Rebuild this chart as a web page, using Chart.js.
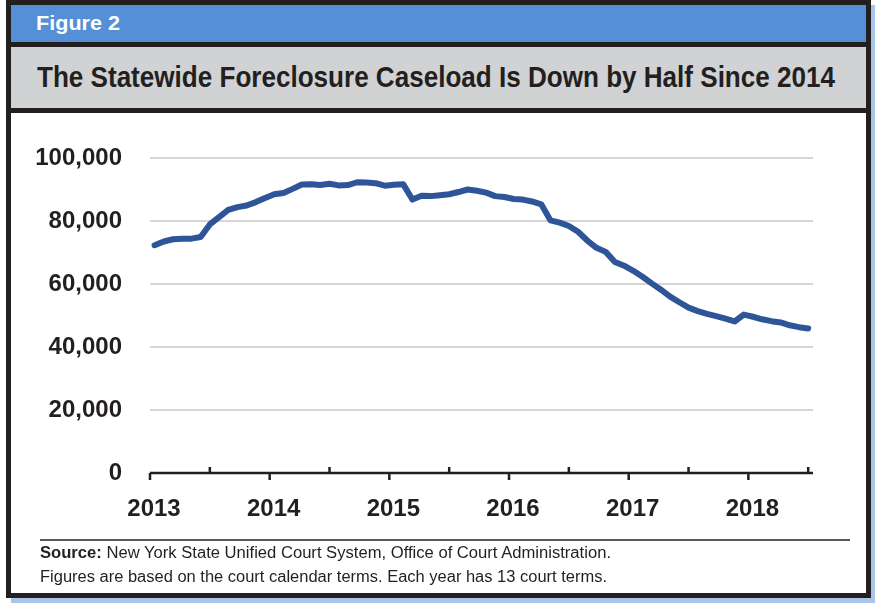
<!DOCTYPE html>
<html>
<head>
<meta charset="utf-8">
<script src="https://cdn.jsdelivr.net/npm/chart.js@4/dist/chart.umd.min.js"></script>
<style>
  body { margin: 0; width: 875px; height: 603px; background: #fff; position: relative; overflow: hidden; }
  .bold { font-family: "Liberation Sans", Arial, sans-serif; font-weight: bold; white-space: nowrap; }
  .fit { display: inline-block; transform-origin: 0 50%; }
  #shadow { position: absolute; left: 11px; top: 5px; width: 865px; height: 598px; background: #a9c6ea; }
  #frame { position: absolute; left: 6px; top: 0; width: 865px; height: 598px; border: 5px solid #231f20; box-sizing: border-box; background: #fff; }
  #fig { position: absolute; left: 0; top: 0; width: 855px; height: 37px; background: #558fd6; color: #fff; font-size: 21px; line-height: 36px; padding-left: 25px; box-sizing: border-box; }
  #title { position: absolute; left: 0; top: 37px; width: 855px; height: 71px; border-top: 5px solid #231f20; border-bottom: 5px solid #231f20; background: #d1d2d4; color: #231f20; font-size: 30px; line-height: 60px; padding-left: 26px; box-sizing: border-box; }
  #wrap { position: absolute; left: 0; top: 108px; width: 855px; height: 430px; }
  #rule { position: absolute; left: 29px; top: 534px; width: 810px; height: 0; border-top: 2px solid #5a5a5a; }
  .note { position: absolute; left: 29px; font-family: "Liberation Sans", Arial, sans-serif; font-size: 16px; color: #231f20; white-space: nowrap; }
</style>
</head>
<body>
<div id="shadow"></div>
<div id="frame">
  <div id="fig" class="bold"><span class="fit" data-w="84">Figure 2</span></div>
  <div id="title" class="bold"><span class="fit" data-w="798">The Statewide Foreclosure Caseload Is Down by Half Since 2014</span></div>
  <div id="wrap"><canvas id="chart"></canvas></div>
  <div id="rule"></div>
  <div class="note" style="top:539px"><span class="fit" data-w="571"><b>Source:</b> New York State Unified Court System, Office of Court Administration.</span></div>
  <div class="note" style="top:563px"><span class="fit" data-w="567">Figures are based on the court calendar terms. Each year has 13 court terms.</span></div>
</div>
<script>
// Statewide foreclosure caseload, one value per court term (13 terms a year), 2013 to mid-2018
const caseload = [
  72300, 73500, 74200, 74400, 74400, 74900, 78900, 81200, 83500, 84400, 84900, 86000, 87300, // 2013
  88500, 88900, 90200, 91600, 91700, 91400, 91800, 91300, 91400, 92300, 92200, 92000, 91200, // 2014
  91500, 91700, 86800, 88000, 87900, 88200, 88500, 89200, 90000, 89600, 89000, 87900, 87600, // 2015
  87000, 86800, 86200, 85300, 80200, 79500, 78400, 76600, 73800, 71500, 70200, 67000, 65800, // 2016
  64200, 62300, 60200, 58200, 56000, 54200, 52500, 51400, 50500, 49800, 49000, 48100, 50300, // 2017
  49600, 48800, 48200, 47800, 46900, 46300, 45900                                            // 2018
];
const firstYear = 2013;
const termsPerYear = 13;
const yearLabels = [2013, 2014, 2015, 2016, 2017, 2018];
const halfYearTicks = [2013.5, 2014.5, 2015.5, 2016.5, 2017.5, 2018.5];
const yTicks = [0, 20000, 40000, 60000, 80000, 100000];

// squeeze the condensed-looking headings to the widths of the original
document.querySelectorAll('.fit').forEach(el => {
  const w = el.getBoundingClientRect().width;
  el.style.transform = 'scaleX(' + (Number(el.dataset.w) / w) + ')';
});

// each term sits in the middle of its slot on the year axis
const points = caseload.map((v, i) => ({ x: firstYear + (i + 0.5) / termsPerYear, y: v }));

const ink = '#231f20';
const tickFont = { family: '"Liberation Sans", Arial, sans-serif', size: 24, weight: 'bold' };

// axis line with year ticks below and half-year ticks above
const axisTicks = {
  id: 'axisTicks',
  afterDatasetsDraw(chart) {
    const { ctx, chartArea, scales } = chart;
    const y0 = chartArea.bottom;
    ctx.save();
    ctx.strokeStyle = ink;
    ctx.lineWidth = 2.5;
    ctx.beginPath();
    ctx.moveTo(chartArea.left, y0);
    ctx.lineTo(chartArea.right, y0);
    yearLabels.forEach(yr => {
      const px = scales.x.getPixelForValue(yr);
      ctx.moveTo(px, y0);
      ctx.lineTo(px, y0 + 7);
    });
    halfYearTicks.forEach(yr => {
      const px = scales.x.getPixelForValue(yr);
      ctx.moveTo(px, y0);
      ctx.lineTo(px, y0 - 6);
    });
    ctx.stroke();
    ctx.restore();
  }
};

new Chart(document.getElementById('chart'), {
  type: 'line',
  data: {
    datasets: [{
      data: points,
      borderColor: '#2e5597',
      borderWidth: 6,
      borderJoinStyle: 'round',
      borderCapStyle: 'round',
      pointRadius: 0,
      tension: 0
    }]
  },
  options: {
    responsive: true,
    maintainAspectRatio: false,
    animation: false,
    layout: { padding: { left: 0, top: 45, right: 53, bottom: 0 } },
    plugins: { legend: { display: false }, tooltip: { enabled: false } },
    scales: {
      x: {
        type: 'linear',
        min: 2013,
        max: 2018.54,
        afterBuildTicks: s => { s.ticks = yearLabels.map(v => ({ value: v })); },
        afterFit: s => { s.height = 70; },
        grid: { display: false },
        border: { display: false },
        ticks: {
          color: ink,
          font: tickFont,
          padding: 14,
          labelOffset: 4,
          maxRotation: 0,
          callback: v => String(v)
        }
      },
      y: {
        min: 0,
        max: 100000,
        afterBuildTicks: s => { s.ticks = yTicks.map(v => ({ value: v })); },
        afterFit: s => { s.width = 139; },
        grid: {
          drawTicks: false,
          color: c => c.tick && c.tick.value === 0 ? 'rgba(0,0,0,0)' : '#d6d6d6',
          lineWidth: 2
        },
        border: { display: false },
        ticks: {
          color: ink,
          font: tickFont,
          padding: 28,
          callback: v => v.toLocaleString('en-US')
        }
      }
    }
  },
  plugins: [axisTicks]
});
</script>
</body>
</html>
